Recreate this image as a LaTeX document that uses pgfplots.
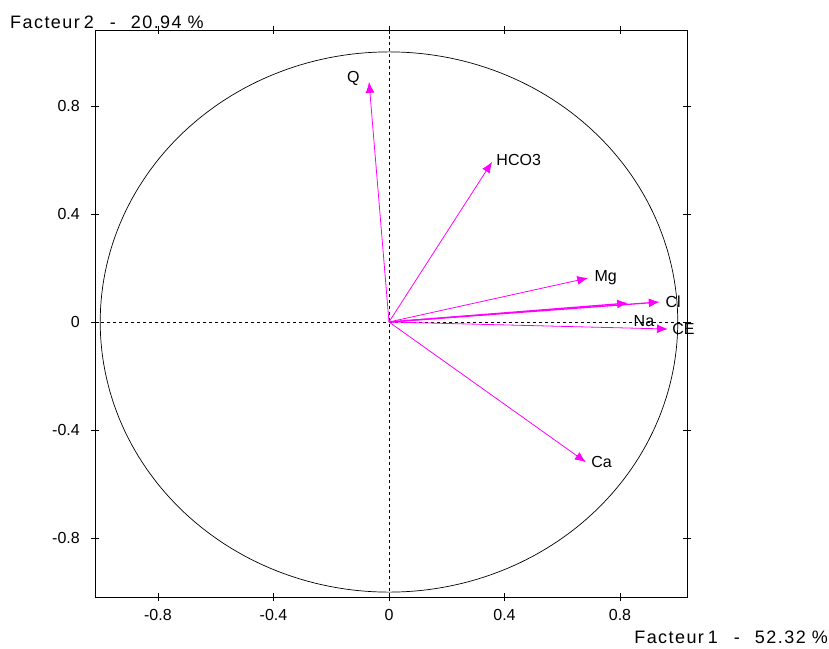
\documentclass[border=0pt]{standalone}
\usepackage{pgfplots}
\pgfplotsset{compat=1.18}
\usetikzlibrary{arrows.meta}
\usepackage{fontspec}
\setmainfont{Liberation Sans}
\newfontfamily\widefont[LetterSpace=8]{Liberation Sans}
\definecolor{mag}{RGB}{255,0,255}
\begin{document}
\fontsize{15}{18}\selectfont
\begin{tikzpicture}[x=1pt,y=1pt]
\begin{axis}[
  at={(0,0)}, anchor=south west,
  scale only axis, width=592pt, height=567pt,
  xmin=-1.018, xmax=1.032, ymin=-1.018, ymax=1.081,
  xtick={-0.8,-0.4,0,0.4,0.8}, ytick={-0.8,-0.4,0,0.4,0.8},
  tick align=center, major tick length=8pt,
  tick style={black, line width=0.8pt},
  axis line style={black, line width=0.8pt},
  /pgf/number format/assume math mode=true,
  /pgf/number format/fixed, /pgf/number format/precision=1,
  tick label style={font=\fontsize{16}{19}\selectfont},
  xticklabel style={yshift=-3pt},
  yticklabel style={xshift=-6pt},
  clip=false,
]
% unit circle
\addplot[black, line width=0.7pt, domain=0:360, samples=241] ({cos(x)},{sin(x)});
% zero lines
\addplot[black, dash pattern=on 3pt off 3pt, line width=0.7pt] coordinates {(0,-1.018) (0,1.081)};
\addplot[black, dash pattern=on 3pt off 3pt, line width=0.7pt] coordinates {(-1.018,0) (1.032,0)};
% vectors
\tikzset{vec/.style={mag, line width=0.8pt, -{Latex[length=11pt,width=9pt]}}}
\tikzset{lab/.style={font=\fontsize{16}{19}\selectfont, inner sep=1pt, text=black}}
\addplot[vec] coordinates {(0,0) (-0.069,0.889)} node[pos=1, lab, anchor=east, xshift=-8pt, yshift=3pt] {Q};
\addplot[vec] coordinates {(0,0) (0.357,0.593)} node[pos=1, lab, anchor=west, xshift=3pt, yshift=2pt] {HCO3};
\addplot[vec] coordinates {(0,0) (0.690,0.163)} node[pos=1, lab, anchor=west, xshift=5pt] {Mg};
\addplot[vec, line width=1.3pt] coordinates {(0,0) (0.938,0.074)} node[pos=1, lab, anchor=west, xshift=4pt] {Cl};
\addplot[vec, line width=1.3pt] coordinates {(0,0) (0.828,0.070)} node[pos=1, lab, anchor=north west, xshift=4pt, yshift=-11pt] {Na};
\addplot[vec] coordinates {(0,0) (0.966,-0.026)} node[pos=1, lab, anchor=west, xshift=3pt] {CE};
\addplot[vec] coordinates {(0,0) (0.682,-0.519)} node[pos=1, lab, anchor=west, xshift=4pt] {Ca};
\end{axis}
\node[anchor=west, inner sep=0pt, font=\widefont\fontsize{18}{21}\selectfont] at (-85,575) {Facteur\hspace{4pt}2\hspace{16pt}-\hspace{15pt}20.94\hspace{6pt}\%};
\node[anchor=east, inner sep=0pt, font=\widefont\fontsize{18}{21}\selectfont] at (733,-40) {Facteur\hspace{4pt}1\hspace{16pt}-\hspace{15pt}52.32\hspace{6pt}\%};
\pgfresetboundingbox
\path (-95,-51) rectangle (734,597);
\end{tikzpicture}
\end{document}
